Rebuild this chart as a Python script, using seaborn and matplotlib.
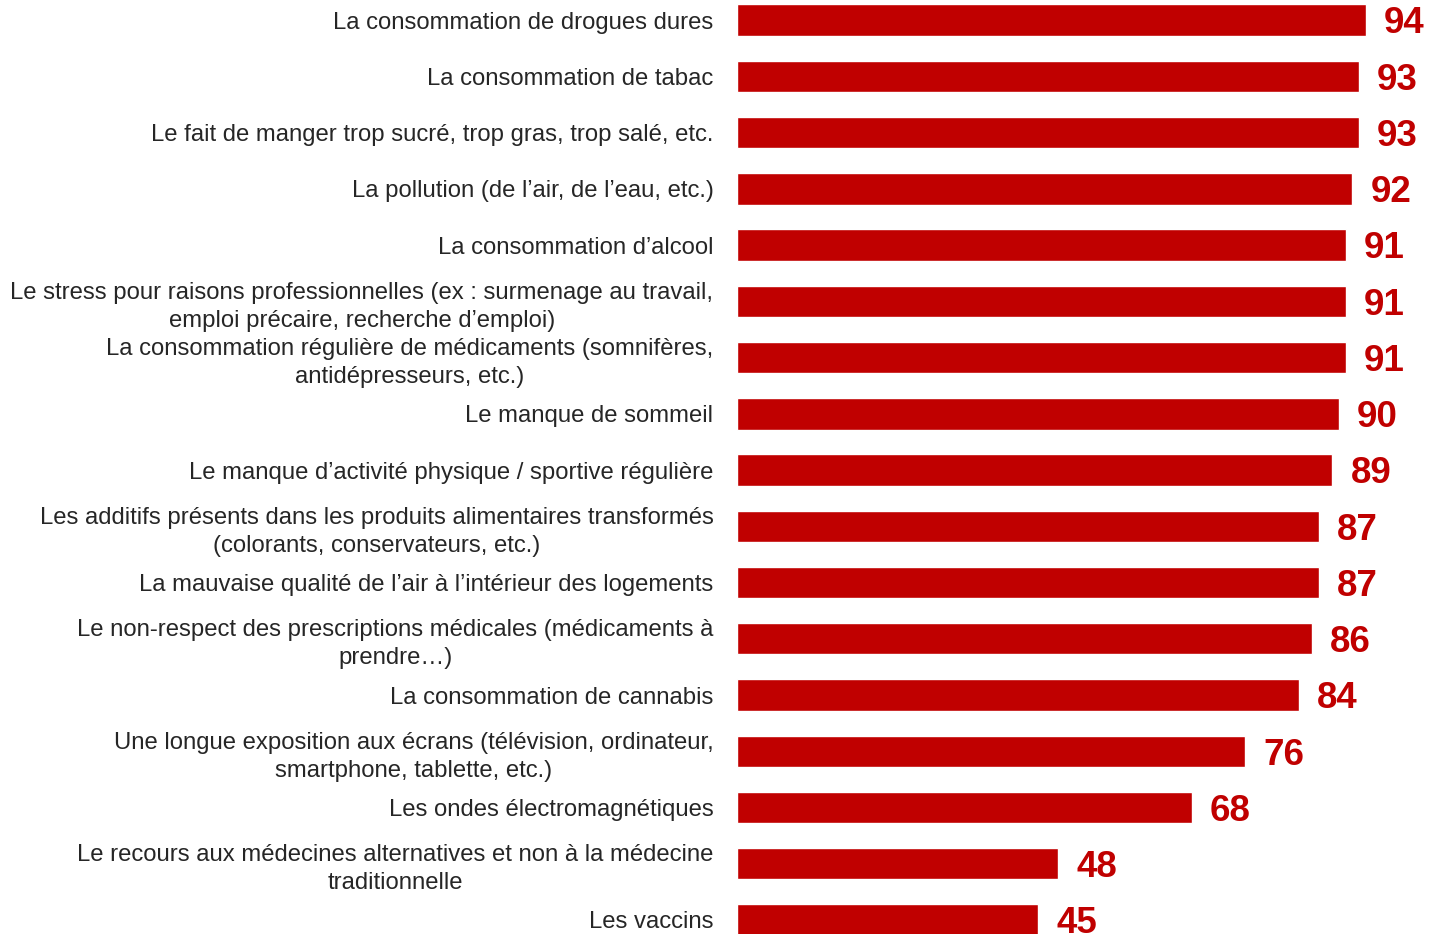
import matplotlib
matplotlib.use("Agg")
import matplotlib.pyplot as plt
import seaborn as sns

# ── Data ──────────────────────────────────────────────────────────────────────
LABELS = [
    "La consommation de drogues dures",
    "La consommation de tabac",
    "Le fait de manger trop sucré, trop gras, trop salé, etc.",
    "La pollution (de l’air, de l’eau, etc.)",
    "La consommation d’alcool",
    "Le stress pour raisons professionnelles (ex : surmenage au travail,\nemploi précaire, recherche d’emploi)",
    "La consommation régulière de médicaments (somnifères,\nantidépresseurs, etc.)",
    "Le manque de sommeil",
    "Le manque d’activité physique / sportive régulière",
    "Les additifs présents dans les produits alimentaires transformés\n(colorants, conservateurs, etc.)",
    "La mauvaise qualité de l’air à l’intérieur des logements",
    "Le non-respect des prescriptions médicales (médicaments à\nprendre…)",
    "La consommation de cannabis",
    "Une longue exposition aux écrans (télévision, ordinateur,\nsmartphone, tablette, etc.)",
    "Les ondes électromagnétiques",
    "Le recours aux médecines alternatives et non à la médecine\ntraditionnelle",
    "Les vaccins",
]
VALUES = [94, 93, 93, 92, 91, 91, 91, 90, 89, 87, 87, 86, 84, 76, 68, 48, 45]

RED = "#C00000"

# ── Style ─────────────────────────────────────────────────────────────────────
sns.set_style("white")
plt.rcParams["font.family"] = ["Liberation Sans", "DejaVu Sans"]

fig = plt.figure(figsize=(14.31, 9.34), dpi=100)
ax = fig.add_axes([737 / 1431, 0, 1 - 737 / 1431, 1])

sns.barplot(x=VALUES, y=list(range(len(VALUES))), orient="h", color=RED,
            width=0.56, saturation=1, ax=ax)

# x scale: ~6.69 px per point, axes spans 694 px
ax.set_xlim(0, 694 / 6.69)
# rows at 20 + 56.25*i px from top
ax.set_ylim((934 - 20) / 56.25, -20 / 56.25)

for i, v in enumerate(VALUES):
    ax.text(v + 18 / 6.69, i + 0.07, str(v), color=RED, fontsize=26.5,
            fontweight="bold", ha="left", va="center")

ax.set_yticks(range(len(LABELS)))
ax.set_yticklabels(LABELS, fontsize=17.2, color="#262626",
                   multialignment="center", linespacing=1.35)
ax.tick_params(axis="y", length=0, pad=17)
ax.set_xticks([])
ax.set_xlabel("")
ax.set_ylabel("")
sns.despine(ax=ax, left=True, bottom=True)

fig.savefig("out.png", dpi=100)
